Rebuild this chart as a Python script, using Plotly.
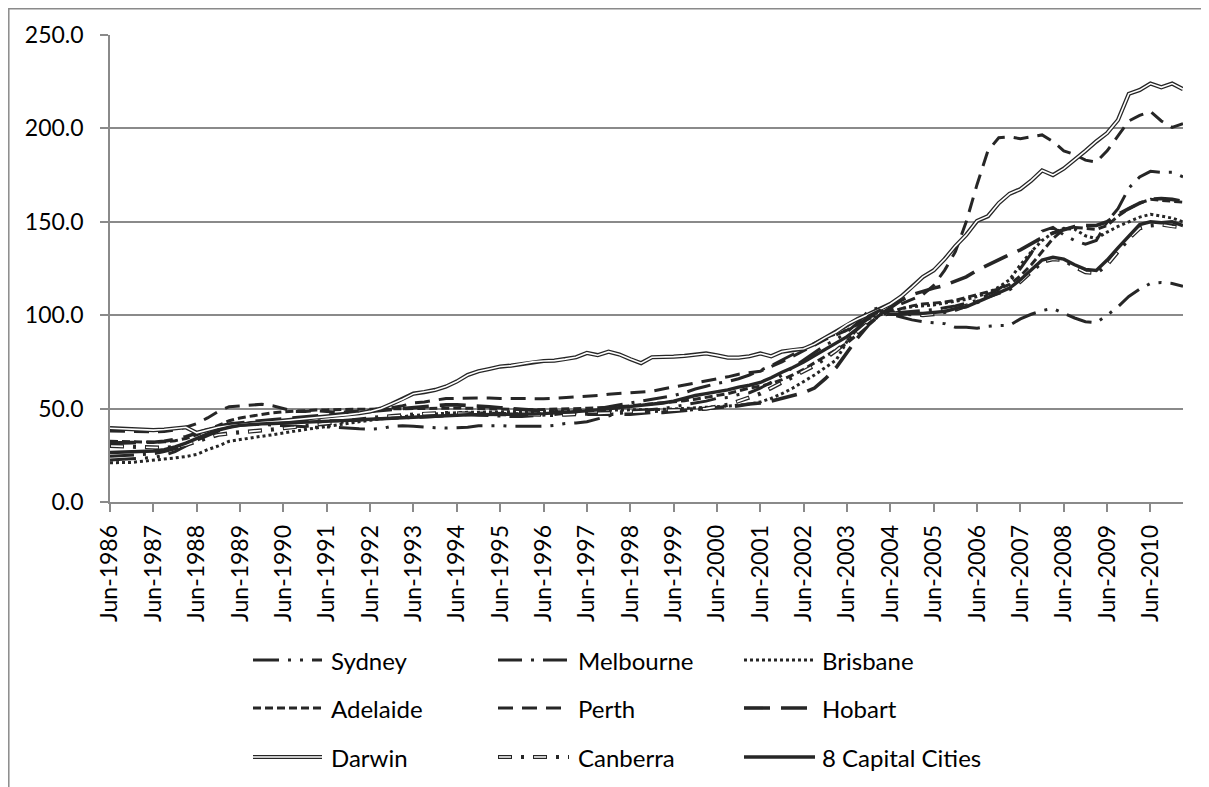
import plotly.graph_objects as go

# ---------------- data ----------------
months = ["Jun", "Sep", "Dec", "Mar"]
quarters = []
for yr in range(1986, 2011):
    for i, m in enumerate(months):
        quarters.append(f"{m}-{yr + (1 if i == 3 else 0)}")
tick_labels = [f"Jun-{y}" for y in range(1986, 2011)]

sydney = [22.5, 22.8, 23.0, 23.3, 23.8, 25.0, 27.0, 30.0, 33.5, 36.5, 39.0, 40.5,
          41.5, 41.8, 41.5, 41.0, 40.5, 40.2, 40.0, 40.0, 40.2, 40.0, 39.6, 39.2,
          39.0, 39.3, 40.5, 40.8, 40.5, 40.0, 39.8, 39.6, 39.6, 40.0, 40.8, 40.9,
          40.9, 40.5, 40.4, 40.4, 40.5, 41.0, 42.0, 42.3, 43.0, 44.5, 46.0, 47.5,
          48.5, 49.0, 49.5, 50.0, 51.0, 52.0, 53.0, 54.0, 55.5, 56.0, 57.5, 58.5,
          61.0, 64.0, 68.0, 72.0, 76.0, 80.0, 84.0, 87.0, 91.0, 96.0, 102.5, 104.0,
          100.5, 99.0, 97.5, 96.5, 96.0, 95.5, 93.5, 93.5, 93.0, 94.0, 94.5, 94.6,
          98.0, 100.5, 102.5, 103.6, 101.0, 98.5, 96.5, 96.0, 100.0, 104.5, 110.0, 114.0,
          117.0, 117.5, 117.0, 115.5]
melbourne = [24.5, 24.8, 25.0, 25.3, 25.8, 27.0, 28.5, 30.5, 33.0, 35.5, 38.0, 40.0,
             41.5, 42.5, 43.0, 43.3, 43.5, 43.5, 43.3, 43.2, 43.3, 43.5, 43.8, 44.0,
             44.3, 44.5, 44.8, 45.0, 45.2, 45.5, 45.8, 46.0, 46.5, 46.8, 46.5, 46.2,
             46.0, 45.8, 45.8, 46.0, 46.3, 46.8, 47.5, 48.3, 49.0, 50.0, 51.0, 52.0,
             53.0, 54.0, 55.0, 56.0, 57.0, 58.5, 60.5, 62.0, 63.5, 64.5, 66.0, 68.0,
             70.5, 73.0, 76.0, 79.0, 82.0, 85.0, 88.0, 90.0, 92.0, 95.0, 99.0, 100.5,
             101.0, 101.5, 102.0, 102.5, 103.0, 104.0, 105.0, 106.5, 108.0, 111.0, 114.0, 118.0,
             125.0, 133.0, 145.0, 147.0, 143.0, 140.0, 138.0, 140.0, 150.0, 157.0, 168.0, 174.0,
             177.0, 176.5, 176.5, 174.0]
brisbane = [21.0, 21.0, 21.2, 21.8, 22.3, 23.0, 23.6, 24.3, 25.5, 28.0, 30.0, 32.5,
            33.5, 34.5, 35.2, 36.0, 37.0, 38.0, 38.8, 39.6, 40.5, 41.3, 42.0, 42.8,
            43.8, 44.5, 45.2, 45.9, 46.3, 46.8, 47.2, 47.5, 47.8, 48.0, 48.0, 48.2,
            48.3, 48.3, 48.4, 48.5, 48.6, 48.7, 48.7, 48.8, 48.8, 48.9, 49.0, 49.0,
            49.0, 49.2, 49.4, 49.6, 49.8, 50.0, 50.3, 50.7, 51.0, 51.3, 51.8, 52.5,
            53.5, 55.5, 58.0, 61.0, 64.5, 68.0, 72.0, 76.0, 86.0, 93.0, 99.0, 102.0,
            101.0, 103.5, 104.5, 105.0, 105.5, 106.5, 107.5, 108.5, 110.0, 112.0, 115.0, 119.0,
            127.0, 134.0, 140.0, 144.0, 146.5, 146.0, 142.5, 141.0, 144.5, 147.5, 150.0, 152.5,
            154.0, 153.0, 152.0, 150.0]
adelaide = [32.5, 32.3, 32.0, 32.0, 32.0, 32.2, 32.8, 34.0, 36.0, 38.5, 41.0, 43.5,
            45.0, 46.0, 47.0, 47.8, 48.3, 48.7, 49.0, 49.2, 49.3, 49.5, 49.6, 49.7,
            49.7, 49.8, 49.9, 50.0, 50.2, 50.3, 50.3, 50.3, 50.3, 50.2, 50.0, 49.8,
            49.6, 49.5, 49.4, 49.4, 49.5, 49.6, 49.8, 50.0, 50.2, 50.4, 50.6, 51.0,
            51.5, 52.0, 52.5, 53.0, 53.5, 54.2, 55.0, 56.0, 57.0, 58.0, 59.5, 61.0,
            62.0, 63.5, 65.5, 68.0, 71.0, 74.5, 78.0, 81.5, 85.0, 90.0, 95.5, 100.0,
            102.0, 103.5, 105.0, 106.0, 106.5, 107.0, 108.0, 109.5, 111.0, 112.5, 114.0, 116.5,
            121.0, 127.0, 134.0, 141.0, 146.0, 147.0, 146.5, 146.0, 148.0, 153.0, 157.0, 160.0,
            162.0, 161.5, 161.0, 160.5]
perth = [38.0, 37.8, 37.6, 37.5, 37.5, 37.8, 38.5, 40.0, 42.0, 45.0, 48.5, 51.0,
         51.5, 52.0, 52.3, 51.5, 50.0, 48.5, 48.5, 48.8, 48.5, 48.0, 48.3, 48.6,
         49.0, 49.5, 50.5, 51.5, 53.0, 53.5, 54.5, 55.4, 55.5, 55.6, 55.7, 55.7,
         55.4, 55.3, 55.2, 55.2, 55.3, 55.5, 55.8, 56.2, 56.6, 57.0, 57.7, 58.0,
         58.5, 58.8, 59.3, 60.5, 61.6, 62.5, 63.5, 64.8, 66.0, 67.0, 68.4, 69.0,
         70.0, 72.5, 75.0, 78.0, 81.0, 84.0, 87.0, 89.5, 92.0, 95.0, 98.0, 100.5,
         103.0, 106.0, 108.5, 111.0, 116.0, 124.0, 134.0, 150.0, 170.0, 188.0, 195.0, 195.5,
         194.5, 195.5, 196.5, 193.0, 188.0, 186.0, 183.0, 182.0, 188.0, 196.0, 204.0, 207.0,
         209.0, 204.0, 200.5, 202.5]
hobart = [31.5, 31.5, 31.8, 32.0, 32.0, 32.5, 33.5, 35.0, 37.0, 39.0, 40.5, 41.8,
          42.5, 43.0, 43.5, 44.0, 44.5, 45.0, 45.5, 46.0, 46.5, 47.0, 47.5, 48.0,
          48.5, 49.0, 49.5, 50.0, 50.5, 51.0, 51.5, 52.0, 52.0, 51.8, 51.5, 51.0,
          50.5, 50.0, 49.5, 49.0, 48.5, 48.3, 48.0, 47.5, 47.0, 47.0, 47.0, 47.0,
          47.0, 47.5, 48.0, 48.0, 48.5, 49.0, 49.5, 50.0, 50.5, 51.0, 51.5, 52.5,
          53.0, 54.0, 55.5, 57.0, 58.5, 61.0, 66.0, 72.0, 80.0, 88.0, 95.0, 100.0,
          104.0, 108.0, 111.0, 113.0, 114.5, 116.0, 118.0, 120.5, 124.0, 127.0, 130.0, 132.5,
          135.0, 138.5, 141.5, 144.0, 146.0, 147.5, 148.0, 148.0, 150.0, 154.0, 157.0, 160.0,
          162.0, 162.5, 162.0, 161.0]
darwin = [39.5, 39.2, 38.9, 38.7, 38.5, 38.8, 39.3, 40.0, 37.0, 38.5, 40.0, 40.8,
          41.5, 42.0, 42.5, 43.0, 43.5, 44.0, 44.5, 45.0, 45.5, 46.0, 46.8, 47.5,
          48.5, 50.0, 52.5, 55.0, 58.0, 58.8, 60.0, 61.8, 64.5, 68.0, 70.0, 71.2,
          72.5, 73.0, 74.0, 75.0, 75.5, 75.7, 76.5, 77.5, 79.8, 78.6, 80.5, 79.0,
          76.5, 74.3, 77.5, 77.5, 77.8, 78.2, 79.0, 79.5, 78.5, 77.3, 77.3, 78.0,
          79.5, 78.0, 80.5, 81.5, 82.0, 84.5, 88.0, 91.0, 95.0, 98.0, 100.5, 103.0,
          106.0, 110.0, 115.0, 120.5, 124.0, 130.0, 137.0, 143.0, 150.5, 153.0, 160.0, 165.0,
          167.5, 172.0, 177.5, 175.0, 178.5, 183.0, 188.0, 193.0, 197.5, 204.5, 218.5, 220.5,
          224.0, 222.0, 224.0, 221.0]
canberra = [30.0, 29.8, 29.5, 29.3, 29.2, 29.0, 29.5, 30.5, 32.5, 34.5, 36.0, 36.8,
            37.2, 37.8, 38.3, 38.8, 39.5, 40.0, 40.8, 41.5, 42.0, 42.7, 43.5, 44.0,
            44.8, 45.5, 46.0, 46.5, 47.0, 47.3, 47.5, 47.6, 47.5, 47.3, 47.0, 46.8,
            46.6, 46.5, 46.4, 46.4, 46.5, 46.6, 46.8, 47.0, 47.2, 47.5, 47.8, 48.0,
            48.0, 48.2, 48.5, 49.0, 49.0, 49.3, 49.7, 50.0, 51.0, 52.0, 54.0, 56.0,
            58.0, 61.0, 64.0, 67.0, 70.0, 73.0, 77.0, 81.0, 86.0, 91.0, 96.0, 100.0,
            101.0, 101.0, 100.5, 100.0, 100.5, 101.5, 103.0, 105.0, 107.0, 110.0, 112.0, 114.0,
            118.0, 123.0, 128.5, 130.0, 129.5, 126.0, 123.0, 122.5, 127.0, 134.0, 141.0, 146.5,
            148.0, 148.5, 147.5, 147.0]
capitals = [26.5, 26.6, 26.8, 27.0, 27.3, 28.0, 29.5, 31.5, 34.0, 36.5, 38.5, 40.0,
            41.0, 41.5, 41.8, 42.0, 42.2, 42.3, 42.5, 42.8, 43.0, 43.3, 43.7, 44.0,
            44.3, 44.6, 45.0, 45.3, 45.6, 45.8, 46.0, 46.2, 46.5, 46.7, 46.8, 46.8,
            46.8, 46.8, 47.0, 47.1, 47.3, 47.6, 48.0, 48.4, 48.8, 49.3, 49.9, 50.4,
            51.0, 51.6, 52.2, 53.0, 54.0, 55.5, 57.0, 58.0, 59.0, 60.0, 61.5, 62.5,
            64.0, 66.5, 69.5, 72.0, 75.0, 78.5, 82.0, 85.0, 88.5, 93.0, 99.5, 102.5,
            100.5, 100.5, 101.0, 101.0, 101.5, 102.0, 103.5, 104.5, 107.0, 109.5, 112.0, 114.5,
            119.0, 124.0, 129.5, 131.0, 130.0, 127.0, 124.5, 124.0, 129.5, 136.0, 142.5, 148.5,
            150.0, 149.5, 150.0, 148.0]

# ---------------- styling ----------------
INK = "#262626"
GRID = "#8a8a8a"
FONT = "Lato"
W = 3

SYD_DASH = "26px,9px,3px,9px,3px,9px"
MEL_DASH = "24px,9px,3px,9px"
BNE_DASH = "3px,3px"
ADL_DASH = "8px,4px"
PER_DASH = "15px,9px"
HOB_DASH = "26px,11px"
CBR_OUT = "14px,9px,3px,9px"
CBR_IN = "0px,1px,12px,22px"

styles = [
    ("Sydney", sydney, SYD_DASH, W),
    ("Melbourne", melbourne, MEL_DASH, W),
    ("Brisbane", brisbane, BNE_DASH, W),
    ("Adelaide", adelaide, ADL_DASH, W),
    ("Perth", perth, PER_DASH, W),
    ("Hobart", hobart, HOB_DASH, 3.6),
]

fig = go.Figure()
for name, vals, dash, w in styles:
    fig.add_trace(go.Scatter(x=quarters, y=vals, mode="lines", name=name,
                             line=dict(color=INK, width=w, dash=dash),
                             showlegend=False, hoverinfo="skip"))
# Darwin: double line
fig.add_trace(go.Scatter(x=quarters, y=darwin, mode="lines", name="Darwin",
                         line=dict(color=INK, width=4.2), showlegend=False))
fig.add_trace(go.Scatter(x=quarters, y=darwin, mode="lines", name="Darwin",
                         line=dict(color="white", width=1.6), showlegend=False))
# Canberra: double line dash-dot
fig.add_trace(go.Scatter(x=quarters, y=canberra, mode="lines", name="Canberra",
                         line=dict(color=INK, width=4.2, dash=CBR_OUT), showlegend=False))
fig.add_trace(go.Scatter(x=quarters, y=canberra, mode="lines", name="Canberra",
                         line=dict(color="white", width=1.6, dash=CBR_IN), showlegend=False))
fig.add_trace(go.Scatter(x=quarters, y=capitals, mode="lines", name="8 Capital Cities",
                         line=dict(color=INK, width=3.4), showlegend=False))

# ---------------- layout geometry (pixels; page body adds an 8px offset) ----------------
OFF = 8
WIDTH, HEIGHT = 1209 - OFF, 787 - OFF
L, R, T, B = 110 - OFF, 1183 - OFF, 35 - OFF, 502 - OFF
PW, PH = R - L, B - T


def px(x):
    return (x - OFF - L) / PW


def py(y):
    return (B - (y - OFF)) / PH


shapes = []
annotations = []
# outer chart border (left and top edges visible)
shapes.append(dict(type="rect", xref="paper", yref="paper",
                   x0=px(8.8), x1=px(1260), y0=py(830), y1=py(8.8),
                   line=dict(color=GRID, width=1.5), fillcolor="rgba(0,0,0,0)",
                   layer="below"))

# manual legend
legend_items = [
    ("Sydney", 0, 0, "dash", SYD_DASH),
    ("Melbourne", 1, 0, "dash", MEL_DASH),
    ("Brisbane", 2, 0, "dash", BNE_DASH),
    ("Adelaide", 0, 1, "dash", ADL_DASH),
    ("Perth", 1, 1, "dash", PER_DASH),
    ("Hobart", 2, 1, "dash", HOB_DASH),
    ("Darwin", 0, 2, "double", None),
    ("Canberra", 1, 2, "doubledash", None),
    ("8 Capital Cities", 2, 2, "solid", None),
]
col_x0 = [253, 498, 744]
col_x1 = [322, 569, 815]
col_tx = [329, 576, 820]
row_y = [660, 708, 757]
for name, c, r, kind, dash in legend_items:
    x0, x1, y = px(col_x0[c]), px(col_x1[c]), py(row_y[r])
    if kind == "dash":
        shapes.append(dict(type="line", xref="paper", yref="paper", x0=x0, x1=x1, y0=y, y1=y,
                           line=dict(color=INK, width=3.6 if name == "Hobart" else W, dash=dash)))
    elif kind == "solid":
        shapes.append(dict(type="line", xref="paper", yref="paper", x0=x0, x1=x1, y0=y, y1=y,
                           line=dict(color=INK, width=3.4)))
    elif kind == "double":
        shapes.append(dict(type="line", xref="paper", yref="paper", x0=x0, x1=x1, y0=y, y1=y,
                           line=dict(color=INK, width=4.2)))
        shapes.append(dict(type="line", xref="paper", yref="paper", x0=x0, x1=x1, y0=y, y1=y,
                           line=dict(color="white", width=1.6)))
    else:
        shapes.append(dict(type="line", xref="paper", yref="paper", x0=x0, x1=x1, y0=y, y1=y,
                           line=dict(color=INK, width=4.2, dash=CBR_OUT)))
        shapes.append(dict(type="line", xref="paper", yref="paper", x0=x0, x1=x1, y0=y, y1=y,
                           line=dict(color="white", width=1.6, dash=CBR_IN)))
    annotations.append(dict(text=name, xref="paper", yref="paper", x=px(col_tx[c]), y=y,
                            xanchor="left", yanchor="middle", showarrow=False,
                            font=dict(family=FONT, size=24, color="#000000")))

fig.update_layout(
    width=WIDTH, height=HEIGHT,
    margin=dict(l=L, r=WIDTH - R, t=T, b=HEIGHT - B, autoexpand=False),
    paper_bgcolor="white", plot_bgcolor="white",
    showlegend=False,
    font=dict(family=FONT, size=23, color="#000000"),
    shapes=shapes, annotations=annotations,
    xaxis=dict(type="category", categoryorder="array", categoryarray=quarters,
               range=[0, len(quarters) - 1], tickmode="array", tickvals=tick_labels,
               ticktext=tick_labels, tickangle=-90, ticks="outside", ticklen=8,
               tickcolor=GRID, tickwidth=1.5, showgrid=False, showline=True,
               linecolor=GRID, linewidth=1.5, zeroline=False,
               tickfont=dict(family=FONT, size=23, color="#000000"),
               ticklabelstandoff=4),
    yaxis=dict(range=[0, 250], tickmode="linear", tick0=0, dtick=50, tickformat=".1f",
               ticks="outside", ticklen=8, tickcolor=GRID, tickwidth=1.5,
               showgrid=True, gridcolor=GRID, gridwidth=1.5, showline=True,
               linecolor=GRID, linewidth=1.5, zeroline=False,
               tickfont=dict(family=FONT, size=23, color="#000000"),
               ticklabelstandoff=12),
)

fig.write_html("out.html")
